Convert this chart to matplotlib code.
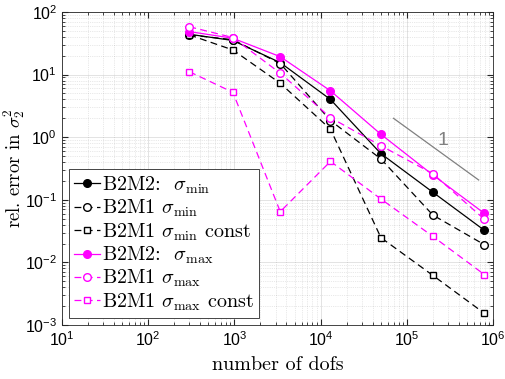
import numpy as np
import matplotlib
matplotlib.use('Agg')
import matplotlib.pyplot as plt
from matplotlib.font_manager import FontProperties

plt.rcParams['font.family'] = 'Liberation Sans'
plt.rcParams['mathtext.fontset'] = 'custom'
plt.rcParams['mathtext.rm'] = 'Liberation Sans'
plt.rcParams['mathtext.it'] = 'Liberation Sans:italic'
plt.rcParams['mathtext.bf'] = 'Liberation Sans:bold'
plt.rcParams['axes.unicode_minus'] = False

dofs = [3.0e2, 9.6e2, 3.4e3, 1.3e4, 5.0e4, 2.0e5, 7.9e5]

b2m2_min = [44, 35, 15.5, 4.0, 0.545, 0.132, 0.0326]
b2m1_min = [43, 36, 15.0, 1.84, 0.449, 0.057, 0.0192]
b2m1_min_const = [43, 24.7, 7.26, 1.34, 0.0248, 0.0062, 0.00154]
b2m2_max = [48.5, 38, 19.3, 5.5, 1.11, 0.249, 0.0608]
b2m1_max = [58, 39, 10.5, 2.05, 0.73, 0.261, 0.0489]
b2m1_max_const = [11.1, 5.2, 0.0646, 0.41, 0.103, 0.026, 0.0064]

# slope indicator
slope_x = [7.0e4, 6.8e5]
slope_y = [2.0, 0.207]

mag = '#ff00ff'
dash = (5.5, 3.5)
cm = FontProperties(family='cmr10', size=14.5, math_fontfamily='cm')

fig = plt.figure(figsize=(5.06, 3.79), dpi=100)
ax = fig.add_axes([0.1225, 0.1425, 0.852, 0.826])

ax.loglog(dofs, b2m2_min, '-', color='k', marker='o', ms=5.5, mfc='k', lw=0.9,
          label=r'B2M2:  $\sigma_{\mathrm{min}}$')
ax.loglog(dofs, b2m1_min, '--', dashes=dash, color='k', marker='o', ms=5.5, mfc='white', lw=0.9,
          label=r'B2M1 $\sigma_{\mathrm{min}}$')
ax.loglog(dofs, b2m1_min_const, '--', dashes=dash, color='k', marker='s', ms=5, mfc='white', lw=0.9,
          label=r'B2M1 $\sigma_{\mathrm{min}}$ const')
ax.loglog(dofs, b2m2_max, '-', color=mag, marker='o', ms=5.5, mfc=mag, lw=0.9,
          label=r'B2M2:  $\sigma_{\mathrm{max}}$')
ax.loglog(dofs, b2m1_max, '--', dashes=dash, color=mag, marker='o', ms=5.5, mfc='white', lw=0.9,
          label=r'B2M1 $\sigma_{\mathrm{max}}$')
ax.loglog(dofs, b2m1_max_const, '--', dashes=dash, color=mag, marker='s', ms=5, mfc='white', lw=0.9,
          label=r'B2M1 $\sigma_{\mathrm{max}}$ const')

ax.plot(slope_x, slope_y, color='#808080', lw=0.9)
ax.text(2.6e5, 0.9, '1', color='#808080', fontsize=14, ha='center', va='center')

ax.set_xlim(1e1, 1e6)
ax.set_ylim(1e-3, 1e2)
ax.grid(True, which='major', color='#262626', alpha=0.15, lw=0.6)
ax.grid(True, which='minor', color='#262626', alpha=0.2, lw=0.5, ls=':')
ax.tick_params(which='both', direction='in', top=True, right=True, colors='#262626',
               labelsize=11.5, labelcolor='k')
ax.tick_params(which='major', length=4)
ax.tick_params(which='minor', length=2)
for s in ax.spines.values():
    s.set_color('#262626')
    s.set_linewidth(0.6)

ax.set_xlabel('number of dofs', family='cmr10', fontsize=14.5)
ax.set_ylabel(r'rel. error in $\sigma_2^2$', family='cmr10', math_fontfamily='cm', fontsize=13.5)
ax.xaxis.set_label_coords(0.5, -0.1)
ax.yaxis.set_label_coords(-0.08, 0.5)

leg = ax.legend(loc='lower left', prop=cm, handlelength=1.3, handletextpad=0.1,
                borderpad=0.25, labelspacing=0.1, borderaxespad=0.35, fancybox=False,
                framealpha=1, edgecolor='#262626')
leg.get_frame().set_linewidth(0.6)

plt.savefig('out.png', dpi=100)
